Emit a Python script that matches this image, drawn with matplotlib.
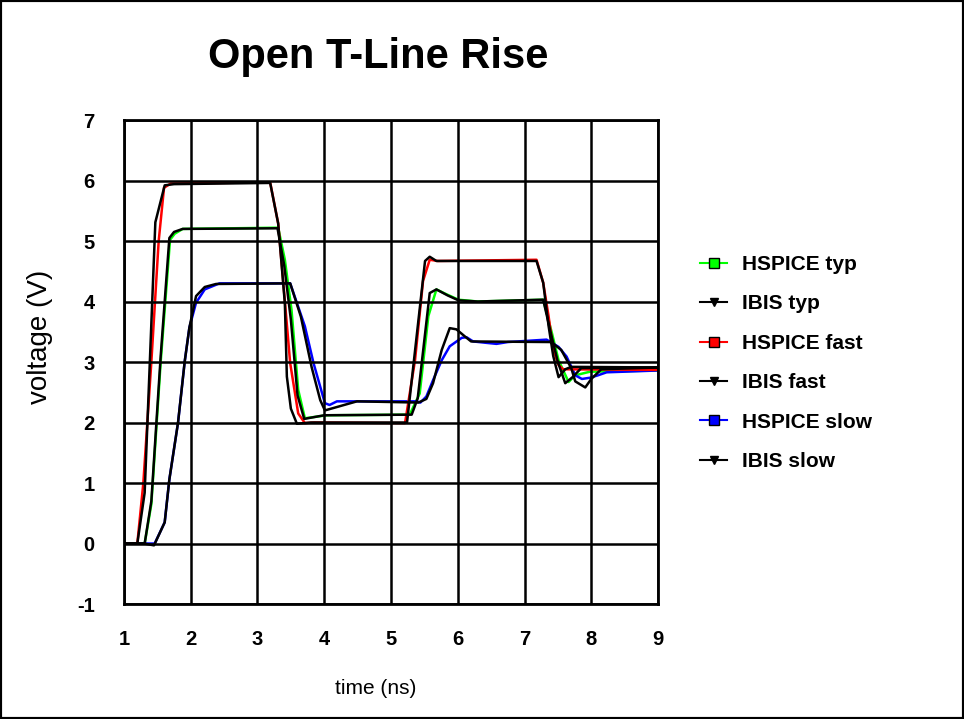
import matplotlib
matplotlib.use('Agg')
import matplotlib.pyplot as plt
from matplotlib.lines import Line2D
from matplotlib.patches import Rectangle

plt.rcParams['font.family'] = ['Liberation Sans', 'DejaVu Sans']
plt.rcParams['axes.unicode_minus'] = False

# HSPICE typ
t_hs_typ = [1.0, 1.31, 1.41, 1.55, 1.69, 1.76, 1.88, 3.31, 3.41, 3.51, 3.61, 3.71, 4.04,
            5.28, 5.43, 5.56, 5.68, 5.83, 6.01, 6.3, 7.28, 7.41, 7.51, 7.66, 7.76, 7.98, 9.0]
v_hs_typ = [0, 0, 0.65, 3.0, 5.02, 5.12, 5.2, 5.22, 4.69, 3.86, 2.54, 2.07, 2.12,
            2.13, 2.48, 3.76, 4.20, 4.12, 4.03, 4.0, 4.03, 3.48, 3.03, 2.67, 2.78, 2.84, 2.86]

# IBIS typ
t_ib_typ = [1.0, 1.31, 1.41, 1.55, 1.68, 1.75, 1.88, 3.3, 3.4, 3.5, 3.6, 3.7, 4.0,
            5.31, 5.4, 5.58, 5.68, 5.85, 6.01, 6.3, 7.28, 7.4, 7.5, 7.61, 7.72, 7.85, 9.0]
v_ib_typ = [0, 0, 0.7, 3.1, 5.05, 5.15, 5.2, 5.21, 4.6, 3.7, 2.45, 2.06, 2.12,
            2.13, 2.4, 4.14, 4.2, 4.1, 4.02, 4.0, 4.03, 3.45, 3.0, 2.65, 2.75, 2.9, 2.91]

# HSPICE fast
t_hs_fast = [1.0, 1.2, 1.29, 1.41, 1.52, 1.6, 1.7, 3.19, 3.31, 3.49, 3.61, 3.71, 3.85,
             5.21, 5.36, 5.48, 5.58, 5.7, 7.18, 7.28, 7.36, 7.43, 7.51, 7.58, 9.0]
v_hs_fast = [0, 0, 1.0, 3.0, 5.0, 5.88, 5.95, 5.97, 5.29, 2.98, 2.15, 1.99, 2.0,
             1.99, 3.03, 4.34, 4.69, 4.67, 4.69, 4.31, 3.76, 3.21, 2.95, 2.88, 2.87]

# IBIS fast
t_ib_fast = [1.0, 1.2, 1.31, 1.47, 1.61, 1.75, 3.19, 3.31, 3.41, 3.44, 3.5, 3.59, 3.8,
             5.24, 5.51, 5.58, 5.68, 7.18, 7.28, 7.36, 7.43, 7.51, 7.61, 7.7, 9.0]
v_ib_fast = [0, 0, 0.84, 5.31, 5.92, 5.94, 5.96, 5.29, 3.97, 2.76, 2.23, 1.98, 2.0,
             2.0, 4.67, 4.74, 4.67, 4.67, 4.31, 3.6, 3.1, 2.75, 2.88, 2.92, 2.91]

# HSPICE slow
t_hs_slow = [1.0, 1.46, 1.61, 1.68, 1.81, 1.91, 1.98, 2.08, 2.21, 2.43, 3.49, 3.71, 3.84,
             4.01, 4.08, 4.19, 5.38, 5.44, 5.53, 5.63, 5.76, 5.88, 6.06, 6.13, 6.23, 6.4,
             6.58, 6.75, 7.33, 7.51, 7.63, 7.76, 7.86, 7.98, 8.1, 8.23, 9.0]
v_hs_slow = [0, 0, 0.35, 1.06, 2.0, 3.01, 3.57, 3.98, 4.2, 4.3, 4.30, 3.59, 2.98,
             2.32, 2.29, 2.35, 2.35, 2.33, 2.43, 2.7, 3.03, 3.26, 3.4, 3.41, 3.34, 3.32,
             3.3, 3.33, 3.37, 3.25, 3.09, 2.78, 2.72, 2.74, 2.78, 2.83, 2.86]

# IBIS slow
t_ib_slow = [1.0, 1.3, 1.45, 1.61, 1.68, 1.81, 1.91, 1.98, 2.08, 2.21, 2.38, 3.49, 3.65,
             3.81, 3.94, 4.01, 4.49, 5.41, 5.53, 5.63, 5.76, 5.88, 5.98, 6.11, 6.2, 7.4,
             7.55, 7.7, 7.76, 7.91, 8.0, 8.15, 9.0]
v_ib_slow = [0, 0, -0.03, 0.35, 1.06, 2.0, 3.01, 3.57, 4.09, 4.24, 4.29, 4.30, 3.75,
             2.92, 2.37, 2.2, 2.35, 2.33, 2.39, 2.65, 3.2, 3.56, 3.54, 3.42, 3.34, 3.33,
             3.2, 2.9, 2.68, 2.58, 2.72, 2.88, 2.91]

fig = plt.figure(figsize=(9.64, 7.19), dpi=100)
ax = fig.add_axes([0.1286, 0.1599, 0.5540, 0.6732])

ax.plot(t_hs_typ, v_hs_typ, color='#00ff00', lw=1.8, zorder=2)
ax.plot(t_hs_slow, v_hs_slow, color='#0000ff', lw=1.8, zorder=2.1)
ax.plot(t_hs_fast, v_hs_fast, color='#ff0000', lw=1.8, zorder=2.2)
ax.plot(t_ib_typ, v_ib_typ, color='black', lw=1.8, zorder=3)
ax.plot(t_ib_fast, v_ib_fast, color='black', lw=1.8, zorder=3)
ax.plot(t_ib_slow, v_ib_slow, color='black', lw=1.8, zorder=3)

ax.set_xlim(1, 9)
ax.set_ylim(-1, 7)
ax.set_xticks(range(1, 10))
ax.set_yticks(range(-1, 8))
ax.set_axisbelow(False)
ax.grid(True, color='black', lw=1.8)
ax.tick_params(length=0, labelsize=14.5)
ax.tick_params(axis='y', pad=21)
ax.tick_params(axis='x', pad=19)
for lab in ax.get_xticklabels() + ax.get_yticklabels():
    lab.set_fontweight('bold')
for s in ax.spines.values():
    s.set_linewidth(2)
    s.set_zorder(4)

ax.set_xlabel('time (ns)', fontsize=15)
ax.set_ylabel('voltage (V)', fontsize=20)
ax.xaxis.set_label_coords(0.472, -0.155)
ax.yaxis.set_label_coords(-0.133, 0.552)
fig.text(0.392, 0.921, 'Open T-Line Rise', fontsize=30, fontweight='bold',
         ha='center', va='center')

handles = [
    Line2D([], [], color='#00ff00', marker='s', mfc='#00ff00', mec='black', ms=7),
    Line2D([], [], color='black', marker='v', mfc='black', mec='black', ms=6),
    Line2D([], [], color='#ff0000', marker='s', mfc='#ff0000', mec='black', ms=7),
    Line2D([], [], color='black', marker='v', mfc='black', mec='black', ms=6),
    Line2D([], [], color='#0000ff', marker='s', mfc='#0000ff', mec='black', ms=7),
    Line2D([], [], color='black', marker='v', mfc='black', mec='black', ms=6),
]
labels = ['HSPICE typ', 'IBIS typ', 'HSPICE fast', 'IBIS fast', 'HSPICE slow', 'IBIS slow']
fig.legend(handles, labels, loc='center left', bbox_to_anchor=(0.707, 0.495),
           frameon=False, prop={'weight': 'bold', 'size': 15},
           handlelength=1.3, handletextpad=0.7, labelspacing=0.98)

fig.add_artist(Rectangle((0, 0), 1, 1, transform=fig.transFigure, fill=False,
                         lw=3, edgecolor='black'))

fig.savefig('out.png', dpi=100)
